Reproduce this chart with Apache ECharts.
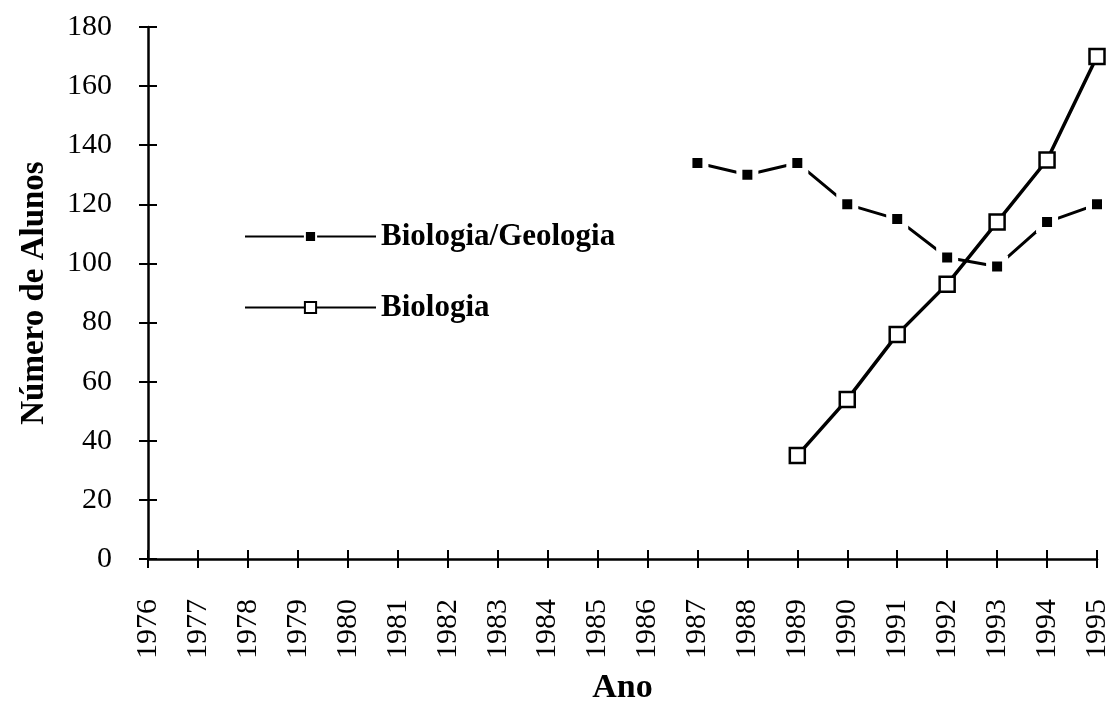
<!DOCTYPE html>
<html>
<head>
<meta charset="utf-8">
<script src="https://cdn.jsdelivr.net/npm/echarts@6/dist/echarts.min.js"></script>
<style>
  html, body { margin: 0; padding: 0; background: #fff; }
  #chart { width: 1110px; height: 706px; }
</style>
</head>
<body>
<div id="chart"></div>
<script>
const years = ['1976', '1977', '1978', '1979', '1980', '1981', '1982', '1983', '1984', '1985',
  '1986', '1987', '1988', '1989', '1990', '1991', '1992', '1993', '1994', '1995'];
// Biologia/Geologia starts 1987, Biologia starts 1989
const bioGeo = [null, null, null, null, null, null, null, null, null, null,
  null, 134, 130, 134, 120, 115, 102, 99, 114, 120];
const bio = [null, null, null, null, null, null, null, null, null, null,
  null, null, null, 35, 54, 76, 93, 114, 135, 170];

const serif = 'Liberation Serif';
const tickStyle = { color: '#000', width: 2 };
let myChart = echarts.init(document.getElementById('chart'));

let option = {
  animation: false,
  grid: {
    left: 148,
    right: 13,
    top: 27,
    bottom: 147,
    outerBoundsMode: 'none'
  },
  legend: {
    orient: 'vertical',
    left: 239,
    top: 216,
    itemGap: 40,
    itemWidth: 131,
    itemHeight: 14,
    textStyle: {
      fontFamily: serif,
      fontSize: 31,
      fontWeight: 'bold',
      color: '#000'
    },
    data: ['Biologia/Geologia', 'Biologia']
  },
  xAxis: [{
    type: 'category',
    data: years,
    boundaryGap: false,
    name: 'Ano',
    nameLocation: 'middle',
    nameGap: 112,
    nameTextStyle: {
      fontFamily: serif,
      fontSize: 34,
      fontWeight: 'bold',
      color: '#000'
    },
    axisLine: { lineStyle: { color: '#000', width: 2.5 } },
    axisTick: { length: 9, lineStyle: tickStyle },
    axisLabel: {
      rotate: 90,
      margin: 40,
      fontFamily: serif,
      fontSize: 30,
      color: '#000'
    },
    splitLine: { show: false }
  }, {
    // same axis again, only for the upper half of the ticks
    type: 'category',
    data: years,
    boundaryGap: false,
    position: 'bottom',
    axisLine: { show: false },
    axisTick: { inside: true, length: 9, lineStyle: tickStyle },
    axisLabel: { show: false },
    splitLine: { show: false }
  }],
  yAxis: [{
    type: 'value',
    min: 0,
    max: 180,
    interval: 20,
    name: 'Número de Alunos',
    nameLocation: 'middle',
    nameGap: 97,
    nameTextStyle: {
      fontFamily: serif,
      fontSize: 33,
      fontWeight: 'bold',
      color: '#000'
    },
    axisLine: { show: true, lineStyle: { color: '#000', width: 2.5 } },
    axisTick: { show: true, length: 9, lineStyle: tickStyle },
    axisLabel: {
      margin: 36,
      fontFamily: serif,
      fontSize: 30,
      color: '#000'
    },
    splitLine: { show: false }
  }, {
    // second copy of the axis only to draw the inner half of the ticks
    type: 'value',
    position: 'left',
    min: 0,
    max: 180,
    interval: 20,
    axisLine: { show: false },
    axisTick: { show: true, inside: true, length: 9, lineStyle: tickStyle },
    axisLabel: { show: false },
    splitLine: { show: false }
  }],
  series: [{
      name: 'Biologia/Geologia',
      type: 'line',
      data: bioGeo,
      symbol: 'rect',
      symbolSize: 16,
      itemStyle: {
        color: '#000',
        borderColor: '#fff',
        borderWidth: 6
      },
      lineStyle: { color: '#000', width: 3 },
      z: 2
    },
    {
      name: 'Biologia',
      type: 'line',
      data: bio,
      symbol: 'rect',
      symbolSize: 15,
      itemStyle: {
        color: '#fff',
        borderColor: '#000',
        borderWidth: 2.5
      },
      lineStyle: { color: '#000', width: 3.5 },
      z: 3
    }
  ]
};
myChart.setOption(option);
</script>
</body>
</html>
